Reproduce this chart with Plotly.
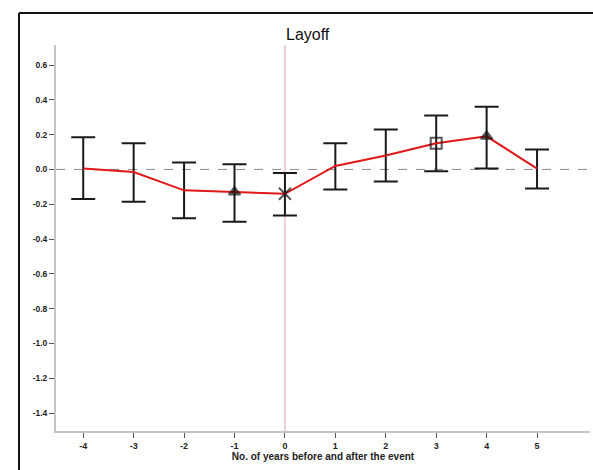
import plotly.graph_objects as go

years = [-4, -3, -2, -1, 0, 1, 2, 3, 4, 5]
estimate = [0.005, -0.015, -0.12, -0.13, -0.14, 0.02, 0.08, 0.15, 0.19, 0.005]
ci_upper = [0.185, 0.15, 0.04, 0.03, -0.02, 0.15, 0.23, 0.31, 0.36, 0.115]
ci_lower = [-0.17, -0.185, -0.28, -0.30, -0.265, -0.115, -0.07, -0.01, 0.005, -0.11]
marker_years = [-1, 0, 3, 4]
marker_symbols = ["triangle-up", "x-thin", "square-open", "triangle-up"]
marker_sizes = [10, 12, 11, 10]
y_ticks = [0.6, 0.4, 0.2, 0.0, -0.2, -0.4, -0.6, -0.8, -1.0, -1.2, -1.4]
x_ticks = [-4, -3, -2, -1, 0, 1, 2, 3, 4, 5]

err_plus = [u - e for u, e in zip(ci_upper, estimate)]
err_minus = [e - l for e, l in zip(estimate, ci_lower)]
marker_vals = [estimate[years.index(y)] for y in marker_years]

fig = go.Figure()
fig.add_trace(go.Scatter(
    x=years, y=estimate, mode="markers", marker=dict(size=0.1, color="rgba(0,0,0,0)"),
    error_y=dict(type="data", symmetric=False, array=err_plus, arrayminus=err_minus,
                 color="#1a1a1a", thickness=2, width=12),
    showlegend=False, hoverinfo="skip"))
fig.add_trace(go.Scatter(
    x=years, y=estimate, mode="lines", line=dict(color="#e01818", width=2),
    showlegend=False))
fig.add_trace(go.Scatter(
    x=marker_years, y=marker_vals, mode="markers",
    marker=dict(symbol=marker_symbols, size=marker_sizes, color="#111111",
                line=dict(color="#111111", width=2)),
    showlegend=False))

L, R, T, B = 56, 3, 45, 39
W, H = 593, 470
pw, ph = W - L - R, H - T - B

def px_x(p):
    return (p - L) / pw

def px_y(p):
    return (H - B - p) / ph

fig.update_layout(
    width=W, height=H,
    margin=dict(l=L, r=R, t=T, b=B, pad=0),
    paper_bgcolor="white", plot_bgcolor="white",
    font=dict(family="Liberation Sans, Arial, sans-serif", color="#222222"),
    xaxis=dict(range=[-4.54, 6.05], tickvals=x_ticks, ticktext=[str(v) for v in x_ticks],
               showgrid=False, zeroline=False, showline=True, linecolor="#c4c4c4", linewidth=2,
               ticks="outside", ticklen=5, tickcolor="#555555", tickwidth=1,
               tickfont=dict(size=9, weight="bold", color="#222222"),
               title=dict(text="No. of years before and after the event",
                          font=dict(size=10, weight="bold", color="#222222"), standoff=3)),
    yaxis=dict(range=[-1.503, 0.715], tickvals=y_ticks, ticktext=[f"{v:.1f}" for v in y_ticks],
               showgrid=False, zeroline=False, showline=True, linecolor="#c4c4c4", linewidth=2,
               ticks="outside", ticklen=5, tickcolor="#555555", tickwidth=1,
               tickfont=dict(size=8.5, weight="bold", color="#222222")),
    shapes=[
        dict(type="line", xref="x", yref="paper", x0=0, x1=0, y0=0, y1=1,
             line=dict(color="#d8a4ac", width=1), layer="below"),
        dict(type="line", xref="paper", yref="y", x0=0, x1=1, y0=0, y1=0,
             line=dict(color="#8c8c8c", width=1, dash="dash"), layer="below"),
        dict(type="line", xref="paper", yref="paper", x0=px_x(19), x1=px_x(593),
             y0=px_y(13), y1=px_y(13), line=dict(color="#111111", width=2)),
        dict(type="line", xref="paper", yref="paper", x0=px_x(19), x1=px_x(19),
             y0=px_y(13), y1=px_y(470), line=dict(color="#111111", width=2)),
    ],
    annotations=[
        dict(text="Layoff", xref="x", yref="paper", x=0, y=px_y(35), xanchor="left",
             yanchor="middle", showarrow=False, xshift=-1,
             font=dict(size=16, color="#111111", family="Liberation Sans, Arial, sans-serif")),
    ],
)

fig.write_html("out.html", config={"displayModeBar": False},
               post_script="document.body.style.margin='0px';document.body.style.overflow='hidden';"
                           "document.documentElement.style.overflow='hidden';")
